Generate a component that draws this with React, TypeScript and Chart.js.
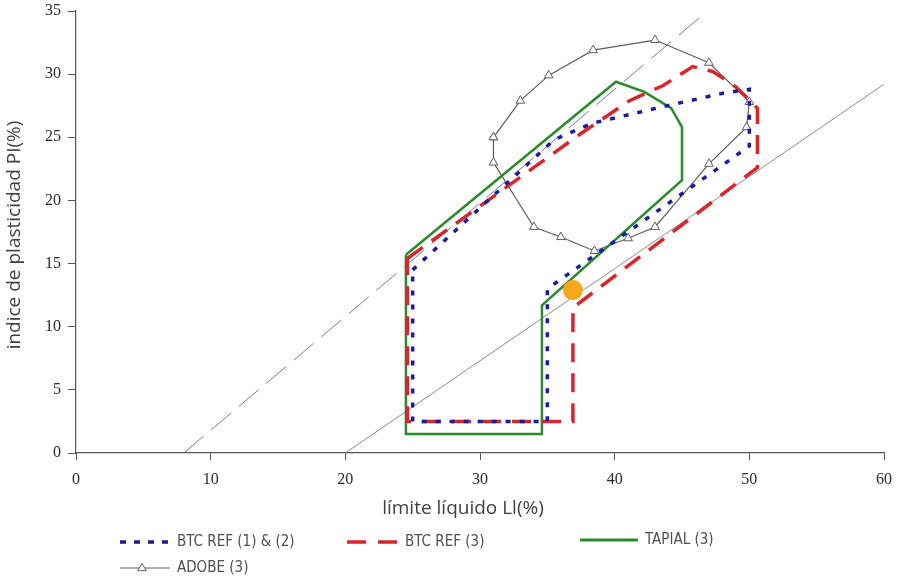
import React, { useEffect, useRef } from "react";
import { Chart, registerables } from "chart.js";

Chart.register(...registerables);

// ---- Data ----
const btc12LL = [25, 35.5, 38.3, 44.3, 48.1, 50, 50, 35, 35, 25, 25];
const btc12PI = [14.5, 24.8, 26.1, 27.6, 28.5, 28.8, 24.3, 13, 2.5, 2.5, 14.5];

const btc3LL = [24.6, 37.5, 41.1, 43.6, 45.8, 47.3, 49.0, 50.6, 50.6, 36.9, 36.9, 24.6, 24.6];
const btc3PI = [15.4, 25.3, 27.9, 29.1, 30.6, 30.2, 29.0, 27.3, 22.6, 11.5, 2.5, 2.5, 15.4];

const tapialLL = [24.5, 40.1, 42.2, 44.2, 45.0, 45.0, 34.6, 34.6, 24.5, 24.5];
const tapialPI = [15.7, 29.4, 28.6, 27.3, 25.8, 21.6, 11.7, 1.5, 1.5, 15.7];

const adobeLL = [31, 31, 34, 36, 38.5, 41, 43, 47, 49.8, 50, 47, 43, 38.4, 35.1, 33, 31];
const adobePI = [25, 23, 17.9, 17.1, 16, 17, 17.9, 22.9, 25.8, 27.8, 30.9, 32.7, 31.9, 29.9, 27.9, 25];

const aLineLL = [20, 60];
const aLinePI = [0, 29.2];

const uLineLL = [8, 46.5];
const uLinePI = [0, 34.65];

const pointLL = [36.9];
const pointPI = [12.9];

const xTicks = [0, 10, 20, 30, 40, 50, 60];
const yTicks = [0, 5, 10, 15, 20, 25, 30, 35];

const legendLabels = ["BTC REF (1) & (2)", "BTC REF (3)", "TAPIAL (3)", "ADOBE (3)"];
const xTitle = "límite líquido Ll(%)";
const yTitle = "indice de plasticidad PI(%)";

const pts = (xs: number[], ys: number[]) => xs.map((x, i) => ({ x, y: ys[i] }));

const BLUE = "#1b1b9e";
const RED = "#d8252b";
const GREEN = "#2b8a2b";
const GRAY = "#5e5e5e";
const TXT = "#404040";

const TICK_FONT = '"Liberation Serif", "DejaVu Serif", serif';
const TITLE_FONT = '"Open Sans", sans-serif';
const LEGEND_FONT = '"Liberation Sans Narrow", "DejaVu Sans Condensed", sans-serif';

const overlayPlugin = {
  id: "overlay",
  afterDraw(chart: any) {
    const ctx = chart.ctx as CanvasRenderingContext2D;
    ctx.save();
    // axis titles
    ctx.fillStyle = TXT;
    ctx.font = `19px ${TITLE_FONT}`;
    ctx.textAlign = "center";
    ctx.textBaseline = "middle";
    ctx.fillText(xTitle, 463, 509);
    ctx.save();
    ctx.translate(15, 235);
    ctx.rotate(-Math.PI / 2);
    ctx.fillText(yTitle, 0, 0);
    ctx.restore();

    // legend
    const items = [
      { x0: 120, x1: 172, y: 542, color: BLUE, w: 3.5, dash: [6, 8], tx: 177, label: legendLabels[0] },
      { x0: 347, x1: 397, y: 542, color: RED, w: 3.5, dash: [19, 12], tx: 405, label: legendLabels[1] },
      { x0: 580, x1: 638, y: 540, color: GREEN, w: 3, dash: [], tx: 645, label: legendLabels[2] },
      { x0: 120, x1: 170, y: 568, color: GRAY, w: 1.2, dash: [], tx: 177, label: legendLabels[3], tri: 142 },
    ];
    for (const it of items) {
      ctx.beginPath();
      ctx.setLineDash(it.dash);
      ctx.strokeStyle = it.color;
      ctx.lineWidth = it.w;
      ctx.moveTo(it.x0, it.y);
      ctx.lineTo(it.x1, it.y);
      ctx.stroke();
      ctx.setLineDash([]);
      if ((it as any).tri) {
        const cx = (it as any).tri;
        const r = 4.5;
        ctx.beginPath();
        ctx.moveTo(cx, it.y - r);
        ctx.lineTo(cx + r * 0.95, it.y + r * 0.6);
        ctx.lineTo(cx - r * 0.95, it.y + r * 0.6);
        ctx.closePath();
        ctx.fillStyle = "#fff";
        ctx.fill();
        ctx.lineWidth = 1;
        ctx.stroke();
      }
      ctx.fillStyle = "#505050";
      ctx.font = `15px ${LEGEND_FONT}`;
      ctx.textAlign = "left";
      ctx.textBaseline = "middle";
      ctx.fillText(it.label, it.tx, it.y);
    }
    ctx.restore();
  },
};

export default function App() {
  const ref = useRef<HTMLCanvasElement>(null);
  useEffect(() => {
    let chart: Chart | null = null;
    let cancelled = false;
    const build = () => {
      if (cancelled || !ref.current) return;
      chart = new Chart(ref.current, {
        type: "scatter",
        data: {
          datasets: [
            {
              label: "punto",
              data: pts(pointLL, pointPI),
              showLine: false,
              pointRadius: 10,
              pointBackgroundColor: "#f6a81c",
              pointBorderColor: "#f6a81c",
              pointBorderWidth: 0,
            },
            {
              label: legendLabels[0],
              data: pts(btc12LL, btc12PI),
              showLine: true,
              borderColor: BLUE,
              borderWidth: 3.5,
              borderDash: [5, 9],
              pointRadius: 0,
              tension: 0,
            },
            {
              label: legendLabels[1],
              data: pts(btc3LL, btc3PI),
              showLine: true,
              borderColor: RED,
              borderWidth: 3.5,
              borderDash: [19, 11],
              pointRadius: 0,
              tension: 0,
            },
            {
              label: legendLabels[2],
              data: pts(tapialLL, tapialPI),
              showLine: true,
              borderColor: GREEN,
              borderWidth: 2.5,
              pointRadius: 0,
              tension: 0,
            },
            {
              label: legendLabels[3],
              data: pts(adobeLL, adobePI),
              showLine: true,
              borderColor: GRAY,
              borderWidth: 1.2,
              pointStyle: "triangle",
              pointRadius: 5,
              pointBackgroundColor: "#ffffff",
              pointBorderColor: GRAY,
              pointBorderWidth: 1,
              tension: 0,
            },
            {
              label: "U",
              data: pts(uLineLL, uLinePI),
              showLine: true,
              borderColor: "#7077ad",
              borderWidth: 1,
              borderDash: [26, 10],
              pointRadius: 0,
            },
            {
              label: "A",
              data: pts(aLineLL, aLinePI),
              showLine: true,
              borderColor: "#8c8c8c",
              borderWidth: 1,
              pointRadius: 0,
            },
          ],
        },
        options: {
          animation: false,
          responsive: false,
          devicePixelRatio: 1,
          layout: { padding: { left: 0, top: 11, right: 15, bottom: 0 } },
          plugins: { legend: { display: false }, tooltip: { enabled: false } },
          scales: {
            x: {
              type: "linear",
              min: 0,
              max: 60,
              afterFit: (s: any) => {
                s.height = 126;
                s.paddingLeft = 0;
                s.paddingRight = 0;
              },
              afterBuildTicks: (s: any) => {
                s.ticks = xTicks.map((v) => ({ value: v }));
              },
              grid: {
                display: true,
                drawOnChartArea: false,
                drawTicks: true,
                tickLength: 7,
                tickColor: "#555",
                tickWidth: 1,
              },
              border: { display: true, color: "#555", width: 1.2 },
              ticks: {
                padding: 10,
                color: "#2a2a2a",
                font: { family: TICK_FONT, size: 16 },
                maxRotation: 0,
              },
            },
            y: {
              type: "linear",
              min: 0,
              max: 35,
              afterFit: (s: any) => {
                s.width = 76;
                s.paddingTop = 0;
                s.paddingBottom = 0;
              },
              afterBuildTicks: (s: any) => {
                s.ticks = yTicks.map((v) => ({ value: v }));
              },
              grid: {
                display: true,
                drawOnChartArea: false,
                drawTicks: true,
                tickLength: 8,
                tickColor: "#555",
                tickWidth: 1,
              },
              border: { display: true, color: "#555", width: 1.2 },
              ticks: {
                padding: 7,
                color: "#2a2a2a",
                font: { family: TICK_FONT, size: 16 },
              },
            },
          },
        },
        plugins: [overlayPlugin],
      });
    };
    const fonts: any = (document as any).fonts;
    if (fonts && fonts.load) {
      Promise.all([
        fonts.load('16px "Liberation Serif"'),
        fonts.load('19px "Open Sans"'),
      ])
        .catch(() => null)
        .then(build);
    } else {
      build();
    }
    return () => {
      cancelled = true;
      if (chart) chart.destroy();
    };
  }, []);
  return (
    <div style={{ position: "fixed", left: 0, top: 0, width: 899, height: 579, background: "#fff" }}>
      <canvas ref={ref} width={899} height={579} style={{ display: "block" }} />
    </div>
  );
}
